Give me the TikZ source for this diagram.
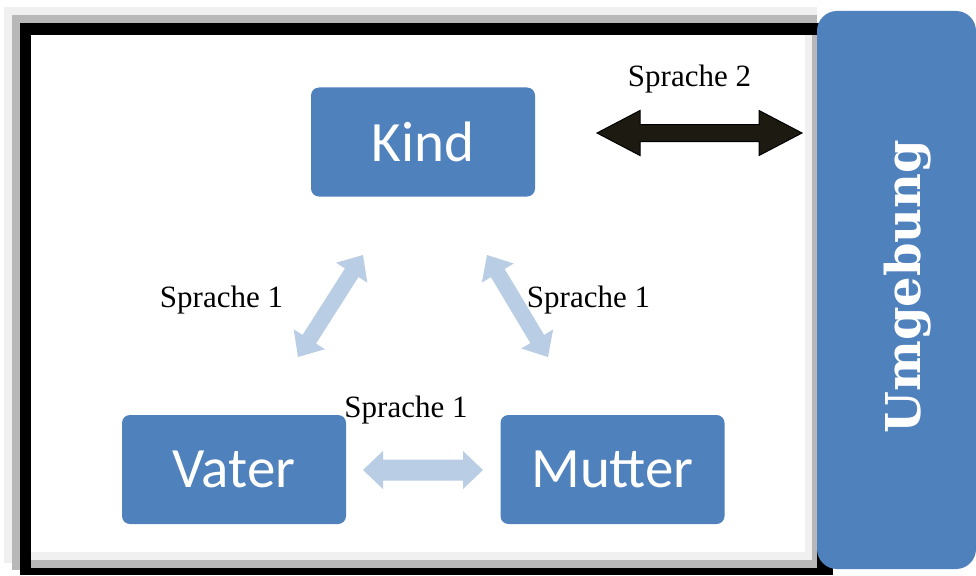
\documentclass[tikz,border=0pt]{standalone}
\usepackage{fontspec}
\setmainfont{Liberation Serif}
\newfontfamily\boxfont{Carlito}
\newfontfamily\barfont{DejaVu Serif}
\usetikzlibrary{calc}

\definecolor{famblue}{HTML}{4F81BD}
\definecolor{linkblue}{HTML}{B9CDE5}
\definecolor{darkarrow}{HTML}{1D1B11}
\definecolor{shadelight}{HTML}{F0F0F0}
\definecolor{shadedark}{HTML}{B8B8B8}

% Block double arrow between two tips:
% #1 style, #2 tip A, #3 tip B, #4 head length, #5 shaft half width, #6 head half width
\newcommand{\twowayarrow}[6]{%
  \coordinate (#2-h) at ($(#2)!#4!(#3)$);
  \coordinate (#3-h) at ($(#3)!#4!(#2)$);
  \path[#1] (#2)
    -- ($(#2-h)!#6!90:(#3)$) -- ($(#2-h)!#5!90:(#3)$)
    -- ($(#3-h)!#5!-90:(#2)$) -- ($(#3-h)!#6!-90:(#2)$)
    -- (#3)
    -- ($(#3-h)!#6!90:(#2)$) -- ($(#3-h)!#5!90:(#2)$)
    -- ($(#2-h)!#5!-90:(#3)$) -- ($(#2-h)!#6!-90:(#3)$)
    -- cycle;
}

\tikzset{
  person/.style={rectangle, rounded corners=8pt, fill=famblue, text=white,
    minimum width=224pt, minimum height=109pt, inner sep=0pt,
    font=\boxfont\fontsize{57}{60}\selectfont},
  lbl/.style={anchor=base, inner sep=0pt, font=\fontsize{31}{34}\selectfont},
  lightlink/.style={fill=linkblue},
  darklink/.style={fill=darkarrow, draw=black, line width=1pt, line join=miter},
}

\begin{document}
\begin{tikzpicture}[x=1pt, y=-1pt]
\useasboundingbox (0,0) rectangle (976,575);

% framed page with its shading
\fill[shadelight] (4,7) rectangle (817,563);
\fill[shadedark] (12,15) rectangle (817,570);
\fill[black] (20,23) rectangle (833,575);
\fill[shadedark] (31,35) rectangle (817,568);
\fill[shadelight] (31,35) rectangle (812,560);
\fill[white] (31,35) rectangle (805,552);

% environment bar
\node[rectangle, rounded corners=20pt, fill=famblue, minimum width=159pt,
      minimum height=558pt, inner sep=0pt] (umgebung) at (896.5,290) {};
\node[rotate=90, anchor=base, text=white, inner sep=0pt,
      font=\barfont\bfseries\fontsize{48}{52}\selectfont] (umgtext) at (920,286.5) {Umgebung};

% family members
\node[person] (kind) at (423,142) {Kind};
\node[person] (vater) at (234,469.5) {Vater};
\node[person] (mutter) at (612.5,469.5) {Mutter};

% arrow end points
\coordinate (k2a) at (597,133);
\coordinate (k2b) at (802,133);
\coordinate (kva) at (298,357);
\coordinate (kvb) at (363,255);
\coordinate (kma) at (487,255);
\coordinate (kmb) at (548,357);
\coordinate (vma) at (363,470);
\coordinate (vmb) at (483,470);

% language links
\twowayarrow{darklink}{k2a}{k2b}{43pt}{8.5pt}{22.5pt}
\twowayarrow{lightlink}{kva}{kvb}{21pt}{8pt}{18.5pt}
\twowayarrow{lightlink}{kma}{kmb}{21pt}{8pt}{18.5pt}
\twowayarrow{lightlink}{vma}{vmb}{20pt}{10.5pt}{19pt}

% labels
\node[lbl] (lab2) at (689.5,87) {Sprache 2};
\node[lbl] (labkv) at (221.5,307) {Sprache 1};
\node[lbl] (labkm) at (588.5,307) {Sprache 1};
\node[lbl] (labvm) at (406,417) {Sprache 1};
\end{tikzpicture}
\end{document}
